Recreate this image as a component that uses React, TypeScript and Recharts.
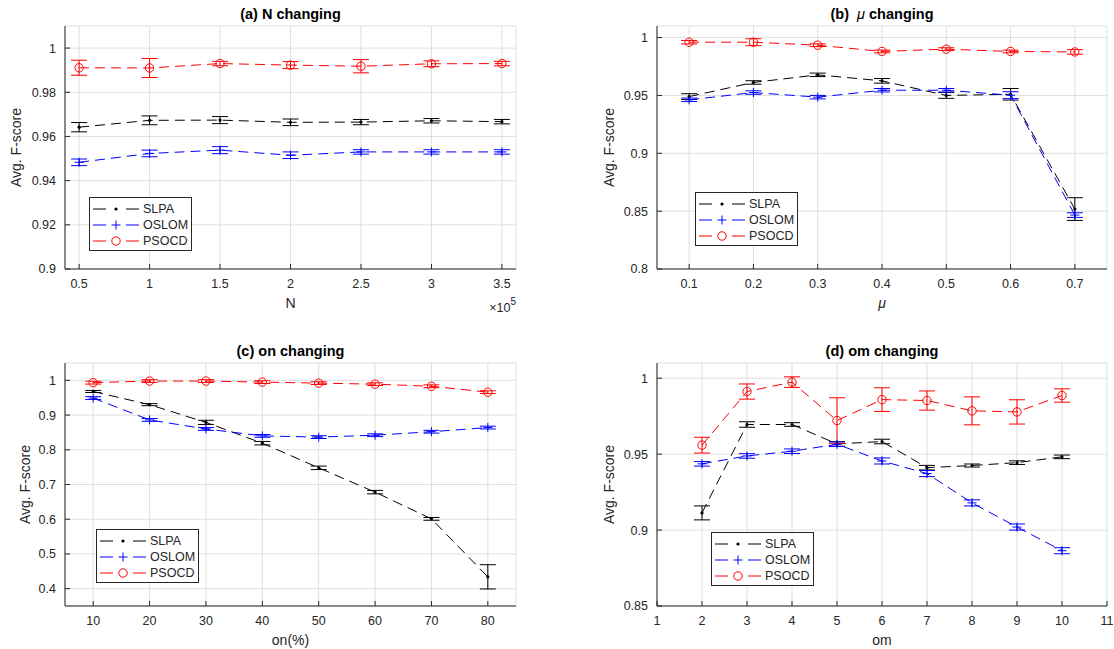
import React from 'react';
import { LineChart, Line, XAxis, YAxis, CartesianGrid, ErrorBar, Legend } from 'recharts';

const FONT = '"Liberation Sans", Arial, Helvetica, sans-serif';
const axisColor = '#262626';
const gridColor = '#dfdfdf';

const seriesNames = ['SLPA', 'OSLOM', 'PSOCD'];
const seriesColors = ['#000000', '#0000ff', '#ff0000'];

// (a) N changing, N in units of 10^5
const nValues = [0.5, 1, 1.5, 2, 2.5, 3, 3.5];
const aSlpa = [0.9642, 0.9673, 0.9674, 0.9664, 0.9665, 0.9671, 0.9667];
const aSlpaErr = [0.0021, 0.002, 0.0016, 0.0015, 0.0012, 0.001, 0.001];
const aOslom = [0.9483, 0.9523, 0.9538, 0.9515, 0.953, 0.953, 0.953];
const aOslomErr = [0.0015, 0.0015, 0.0016, 0.0015, 0.001, 0.001, 0.001];
const aPsocd = [0.9911, 0.991, 0.993, 0.9923, 0.9918, 0.9929, 0.993];
const aPsocdErr = [0.0034, 0.0043, 0.001, 0.0016, 0.003, 0.0013, 0.001];
const aXTicks = [0.5, 1, 1.5, 2, 2.5, 3, 3.5];
const aYTicks = [0.9, 0.92, 0.94, 0.96, 0.98, 1];

// (b) mu changing
const muValues = [0.1, 0.2, 0.3, 0.4, 0.5, 0.6, 0.7];
const bSlpa = [0.949, 0.9612, 0.9678, 0.9626, 0.95, 0.951, 0.8518];
const bSlpaErr = [0.0025, 0.0015, 0.0015, 0.002, 0.0025, 0.005, 0.0098];
const bOslom = [0.9462, 0.9525, 0.9485, 0.9545, 0.9545, 0.9502, 0.8466];
const bOslomErr = [0.0015, 0.0015, 0.0015, 0.0015, 0.0015, 0.003, 0.002];
const bPsocd = [0.996, 0.996, 0.9934, 0.988, 0.99, 0.988, 0.9876];
const bPsocdErr = [0.0015, 0.003, 0.0012, 0.0012, 0.0012, 0.0012, 0.002];
const bXTicks = [0.1, 0.2, 0.3, 0.4, 0.5, 0.6, 0.7];
const bYTicks = [0.8, 0.85, 0.9, 0.95, 1];

// (c) on changing
const onValues = [10, 20, 30, 40, 50, 60, 70, 80];
const cSlpa = [0.968, 0.93, 0.879, 0.819, 0.748, 0.678, 0.601, 0.434];
const cSlpaErr = [0.003, 0.003, 0.006, 0.005, 0.005, 0.005, 0.004, 0.035];
const cOslom = [0.949, 0.886, 0.86, 0.84, 0.8365, 0.842, 0.852, 0.864];
const cOslomErr = [0.004, 0.004, 0.004, 0.004, 0.004, 0.004, 0.004, 0.004];
const cPsocd = [0.9933, 0.998, 0.998, 0.995, 0.992, 0.989, 0.983, 0.966];
const cPsocdErr = [0.004, 0.004, 0.004, 0.004, 0.004, 0.004, 0.004, 0.004];
const cXTicks = [10, 20, 30, 40, 50, 60, 70, 80];
const cYTicks = [0.4, 0.5, 0.6, 0.7, 0.8, 0.9, 1];

// (d) om changing
const omValues = [2, 3, 4, 5, 6, 7, 8, 9, 10];
const dSlpa = [0.9113, 0.9695, 0.9695, 0.9567, 0.9583, 0.9411, 0.9425, 0.9444, 0.9482];
const dSlpaErr = [0.0046, 0.0018, 0.0012, 0.0015, 0.0015, 0.0015, 0.001, 0.0012, 0.0012];
const dOslom = [0.9436, 0.9488, 0.9519, 0.9565, 0.9455, 0.9372, 0.9179, 0.902, 0.8864];
const dOslomErr = [0.0015, 0.0015, 0.0015, 0.0015, 0.002, 0.002, 0.002, 0.002, 0.002];
const dPsocd = [0.9559, 0.9912, 0.9974, 0.9721, 0.9859, 0.9853, 0.9785, 0.9778, 0.9886];
const dPsocdErr = [0.0052, 0.005, 0.0035, 0.015, 0.0078, 0.0063, 0.0092, 0.008, 0.0044];
const dXTicks = [1, 2, 3, 4, 5, 6, 7, 8, 9, 10, 11];
const dYTicks = [0.85, 0.9, 0.95, 1];

function buildRows(xs: number[], s: number[][]) {
  return xs.map((x, i) => ({
    x,
    slpa: s[0][i], slpaErr: s[1][i],
    oslom: s[2][i], oslomErr: s[3][i],
    psocd: s[4][i], psocdErr: s[5][i],
  }));
}

const fmt = (v: number) => String(Number(v.toFixed(3)));

function Marker({ cx, cy, kind }: { cx?: number; cy?: number; kind: number }) {
  if (cx == null || cy == null) return <g />;
  const c = seriesColors[kind];
  if (kind === 0) return <circle cx={cx} cy={cy} r={1.6} fill={c} />;
  if (kind === 1) {
    return (
      <g stroke={c} strokeWidth={1}>
        <line x1={cx - 4.5} y1={cy} x2={cx + 4.5} y2={cy} />
        <line x1={cx} y1={cy - 4.5} x2={cx} y2={cy + 4.5} />
      </g>
    );
  }
  return <circle cx={cx} cy={cy} r={4.2} fill="none" stroke={c} strokeWidth={1} />;
}

const makeDot = (kind: number) => (p: any) => (
  <Marker key={`m-${kind}-${p.index}`} cx={p.cx} cy={p.cy} kind={kind} />
);

const LegendBox = () => (
  <div
    style={{
      width: 103, height: 54, boxSizing: 'border-box', border: `1px solid ${axisColor}`,
      background: '#fff', padding: '3px 0 0 3px', fontFamily: FONT, fontSize: 12.5, color: axisColor,
    }}
  >
    {seriesNames.map((name, i) => (
      <div key={name} style={{ display: 'flex', alignItems: 'center', height: 16 }}>
        <svg width={46} height={16} style={{ marginRight: 4 }}>
          <line x1={0} y1={8} x2={13} y2={8} stroke={seriesColors[i]} strokeWidth={1} />
          <line x1={33} y1={8} x2={46} y2={8} stroke={seriesColors[i]} strokeWidth={1} />
          <Marker cx={23} cy={8} kind={i} />
        </svg>
        <span style={{ lineHeight: '16px' }}>{name}</span>
      </div>
    ))}
  </div>
);

interface PanelProps {
  box: { left: number; top: number; width: number; height: number };
  plot: { x0: number; y0: number; x1: number; y1: number };
  rows: ReturnType<typeof buildRows>;
  xDomain: [number, number];
  xTicks: number[];
  yDomain: [number, number];
  yTicks: number[];
  legendAt: { left: number; top: number };
}

const tickStyle = { fill: axisColor, fontSize: 12.5, fontFamily: FONT };

function Panel({ box, plot, rows, xDomain, xTicks, yDomain, yTicks, legendAt }: PanelProps) {
  const yAxisWidth = 45;
  const xAxisHeight = 30;
  const margin = {
    left: plot.x0 - box.left - yAxisWidth,
    right: box.left + box.width - plot.x1,
    top: plot.y0 - box.top,
    bottom: box.top + box.height - plot.y1 - xAxisHeight,
  };
  const keys = ['slpa', 'oslom', 'psocd'];
  return (
    <div style={{ position: 'absolute', left: box.left, top: box.top }}>
      <LineChart width={box.width} height={box.height} data={rows} margin={margin}>
        <CartesianGrid stroke={gridColor} />
        <XAxis
          dataKey="x"
          type="number"
          domain={xDomain}
          ticks={xTicks}
          interval={0}
          allowDataOverflow
          height={xAxisHeight}
          tickSize={-5}
          tickMargin={15}
          tick={tickStyle}
          tickFormatter={fmt}
          axisLine={{ stroke: axisColor }}
          tickLine={{ stroke: axisColor }}
        />
        <YAxis
          type="number"
          domain={yDomain}
          ticks={yTicks}
          interval={0}
          allowDataOverflow
          width={yAxisWidth}
          tickSize={-5}
          tickMargin={14}
          tick={tickStyle}
          tickFormatter={fmt}
          axisLine={{ stroke: axisColor }}
          tickLine={{ stroke: axisColor }}
        />
        <Legend
          layout="horizontal"
          verticalAlign="middle"
          align="center"
          content={() => <LegendBox />}
          wrapperStyle={{ left: legendAt.left - box.left, top: legendAt.top - box.top, width: 103, height: 54 }}
        />
        {keys.map((k, i) => (
          <Line
            key={k}
            dataKey={k}
            name={seriesNames[i]}
            type="linear"
            stroke={seriesColors[i]}
            strokeWidth={1}
            strokeDasharray="10 6"
            dot={makeDot(i)}
            activeDot={false}
            isAnimationActive={false}
          >
            <ErrorBar
              dataKey={`${k}Err`}
              direction="y"
              width={8}
              stroke={seriesColors[i]}
              strokeWidth={1}
              isAnimationActive={false}
            />
          </Line>
        ))}
      </LineChart>
    </div>
  );
}

export default function App() {
  const rowsA = buildRows(nValues, [aSlpa, aSlpaErr, aOslom, aOslomErr, aPsocd, aPsocdErr]);
  const rowsB = buildRows(muValues, [bSlpa, bSlpaErr, bOslom, bOslomErr, bPsocd, bPsocdErr]);
  const rowsC = buildRows(onValues, [cSlpa, cSlpaErr, cOslom, cOslomErr, cPsocd, cPsocdErr]);
  const rowsD = buildRows(omValues, [dSlpa, dSlpaErr, dOslom, dOslomErr, dPsocd, dPsocdErr]);

  const textProps = { fill: axisColor, fontFamily: FONT };
  const titleProps = { fill: '#000', fontFamily: FONT, fontSize: 14.5, fontWeight: 'bold' as const, textAnchor: 'middle' as const, dominantBaseline: 'central' as const };
  const labelProps = { ...textProps, fontSize: 14, textAnchor: 'middle' as const, dominantBaseline: 'central' as const };

  return (
    <div style={{ position: 'absolute', left: 0, top: 0, width: 1114, height: 649, background: '#fff', overflow: 'hidden' }}>
      <Panel
        box={{ left: 0, top: 0, width: 557, height: 325 }}
        plot={{ x0: 65, y0: 26, x1: 516, y1: 269 }}
        rows={rowsA}
        xDomain={[0.4, 3.6]}
        xTicks={aXTicks}
        yDomain={[0.9, 1.01]}
        yTicks={aYTicks}
        legendAt={{ left: 89, top: 197 }}
      />
      <Panel
        box={{ left: 557, top: 0, width: 557, height: 325 }}
        plot={{ x0: 657, y0: 26, x1: 1107, y1: 269 }}
        rows={rowsB}
        xDomain={[0.05, 0.75]}
        xTicks={bXTicks}
        yDomain={[0.8, 1.01]}
        yTicks={bYTicks}
        legendAt={{ left: 695, top: 192 }}
      />
      <Panel
        box={{ left: 0, top: 325, width: 557, height: 324 }}
        plot={{ x0: 65, y0: 363, x1: 516, y1: 606 }}
        rows={rowsC}
        xDomain={[5, 85]}
        xTicks={cXTicks}
        yDomain={[0.35, 1.05]}
        yTicks={cYTicks}
        legendAt={{ left: 96, top: 529 }}
      />
      <Panel
        box={{ left: 557, top: 325, width: 557, height: 324 }}
        plot={{ x0: 657, y0: 363, x1: 1107, y1: 606 }}
        rows={rowsD}
        xDomain={[1, 11]}
        xTicks={dXTicks}
        yDomain={[0.85, 1.01]}
        yTicks={dYTicks}
        legendAt={{ left: 711, top: 532 }}
      />
      <svg width={1114} height={649} style={{ position: 'absolute', left: 0, top: 0, pointerEvents: 'none' }}>
        <text x={290.5} y={14} {...titleProps}>(a) N changing</text>
        <text x={882} y={14} {...titleProps}>
          {'(b)\u00a0\u00a0'}
          <tspan fontStyle="italic" fontWeight="normal">μ</tspan>
          {' changing'}
        </text>
        <text x={290.5} y={351} {...titleProps}>(c) on changing</text>
        <text x={882} y={351} {...titleProps}>(d) om changing</text>

        <text x={290.5} y={303} {...labelProps}>N</text>
        <text x={516} y={312} {...textProps} fontSize={12.5} textAnchor="end">
          ×10<tspan dy={-7} fontSize={10}>5</tspan>
        </text>
        <text x={882} y={303} {...labelProps} fontStyle="italic">μ</text>
        <text x={290.5} y={640} {...labelProps}>on(%)</text>
        <text x={882} y={640} {...labelProps}>om</text>

        <text x={16} y={147.5} {...labelProps} transform="rotate(-90 16 147.5)">Avg. F-score</text>
        <text x={609} y={147.5} {...labelProps} transform="rotate(-90 609 147.5)">Avg. F-score</text>
        <text x={25} y={484.5} {...labelProps} transform="rotate(-90 25 484.5)">Avg. F-score</text>
        <text x={609} y={484.5} {...labelProps} transform="rotate(-90 609 484.5)">Avg. F-score</text>
      </svg>
    </div>
  );
}
